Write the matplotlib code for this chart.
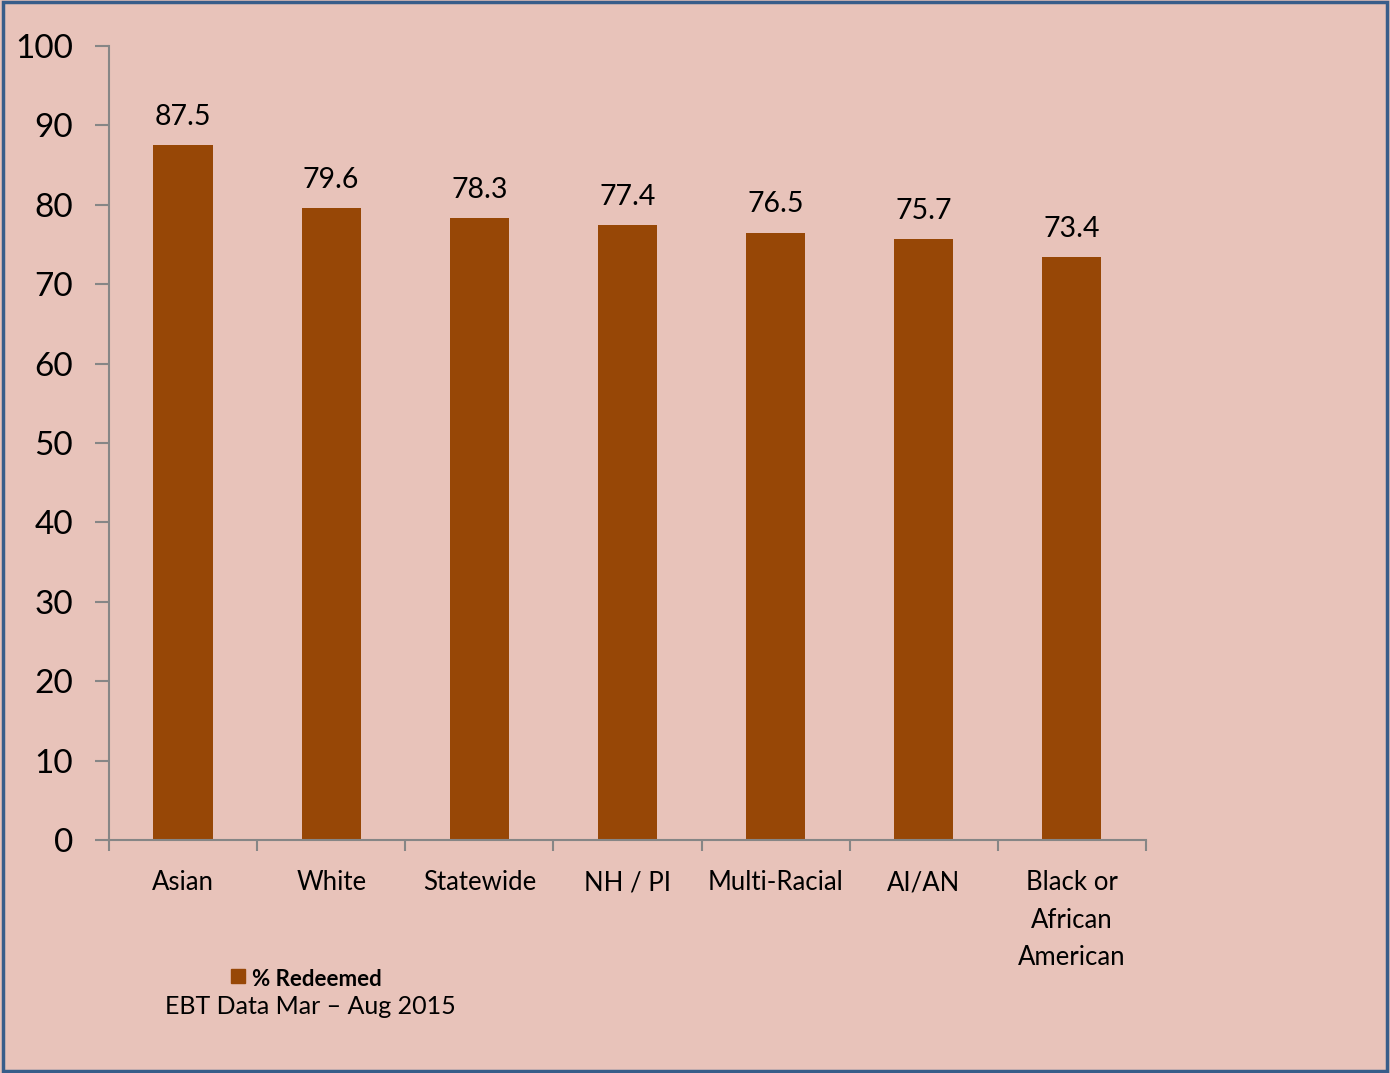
import matplotlib.pyplot as plt
import matplotlib.patches as mpatches
import numpy as np

plt.rcParams['font.family'] = ['Lato', 'DejaVu Sans']

# 数据
categories = ['Asian', 'White', 'Statewide', 'NH / PI', 'Multi-Racial', 'AI/AN',
              'Black or\nAfrican\nAmerican']
redeemed = [87.5, 79.6, 78.3, 77.4, 76.5, 75.7, 73.4]
y_ticks = [0, 10, 20, 30, 40, 50, 60, 70, 80, 90, 100]

bg = '#E8C3BA'
bar_color = '#974706'
axis_color = '#868686'

fig = plt.figure(figsize=(13.9, 10.73), dpi=100, facecolor=bg)
ax = fig.add_axes([0.0784, 0.2172, 0.746, 0.740])
ax.set_facecolor(bg)

x = np.arange(len(categories))
ax.bar(x, redeemed, width=0.40, color=bar_color)
for xi, v in zip(x, redeemed):
    ax.text(xi, v + 1.9, f'{v:.1f}', ha='center', va='bottom', fontsize=20.5)

ax.set_xlim(-0.5, len(categories) - 0.5)
ax.set_ylim(0, 100)
ax.set_yticks(y_ticks)
ax.tick_params(axis='y', labelsize=24, length=10, width=1.5, color=axis_color,
               direction='out', pad=16)
# 类目刻度在柱间
ax.set_xticks(np.arange(len(categories) + 1) - 0.5)
ax.set_xticklabels([])
ax.set_xticks(x, minor=True)
ax.set_xticklabels(categories, minor=True, fontsize=18.5, linespacing=1.62, va='top')
ax.tick_params(axis='x', which='major', length=8, width=1.5, color=axis_color, direction='out')
ax.tick_params(axis='x', which='minor', length=0, pad=22)

for s in ['top', 'right']:
    ax.spines[s].set_visible(False)
for s in ['left', 'bottom']:
    ax.spines[s].set_color(axis_color)
    ax.spines[s].set_linewidth(1.5)

# 图例
fig.patches.append(mpatches.Rectangle((231 / 1390, 1 - 983 / 1073), 14 / 1390, 14 / 1073,
                                      transform=fig.transFigure, color=bar_color))
fig.text(252 / 1390, 1 - 980 / 1073, '% Redeemed', fontsize=16, fontweight='bold',
         va='center', ha='left')
fig.text(310 / 1390, 1 - 1007 / 1073, 'EBT Data Mar \u2013 Aug 2015', fontsize=18,
         va='center', ha='center')

# 外框
fig.patches.append(mpatches.Rectangle((0.002, 0.002), 0.996, 0.996, transform=fig.transFigure,
                                      fill=False, edgecolor='#385D8A', linewidth=2.5))

fig.savefig('out.png', dpi=100, facecolor=bg)
